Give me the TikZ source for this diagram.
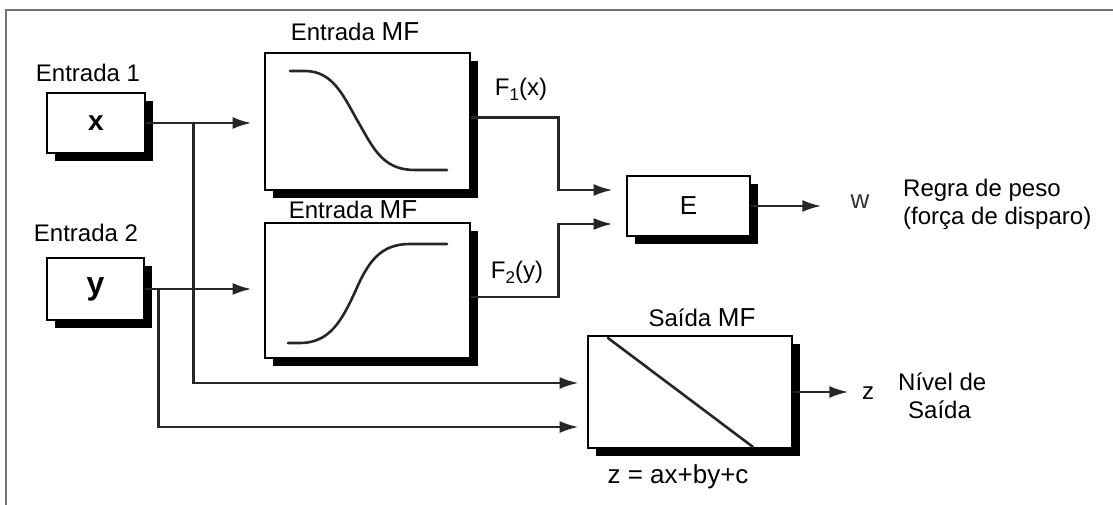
\documentclass[tikz,border=0pt]{standalone}
\usepackage{fontspec}
\setmainfont{Liberation Sans}
\usetikzlibrary{arrows.meta,shadows,calc}
\begin{document}
\begin{tikzpicture}[x=1pt,y=-1pt,
  blk/.style={draw=black, line width=2.8pt, fill=white, rectangle, inner sep=0pt,
    general shadow={fill=black, shadow xshift=8pt, shadow yshift=-8pt}},
  wire/.style={draw=black!85, line width=2.6pt},
  arr/.style={wire, -{Latex[length=19pt,width=12pt]}},
  lbl/.style={font=\fontsize{24}{28}\selectfont, inner sep=0pt},
  curve/.style={draw=black!85, line width=2.6pt, line cap=round},
  frame/.style={draw=black!55, line width=2pt}
  ]
\useasboundingbox (0,0) rectangle (1113,505);
\draw[frame] (1113,10) -- (6,10) -- (6,505);

% blocks
\node[blk, minimum width=98pt, minimum height=60pt] (bx) at (96,123) {\fontsize{28}{28}\selectfont\bfseries x};
\node[blk, minimum width=97pt, minimum height=62pt] (by) at (95.5,289) {\fontsize{32}{32}\selectfont\bfseries y};
\node[blk, minimum width=205pt, minimum height=137pt] (mf1) at (367.5,121.5) {};
\node[blk, minimum width=205pt, minimum height=135pt] (mf2) at (367.5,290.5) {};
\node[blk, minimum width=123pt, minimum height=60pt] (E) at (688.5,206) {\fontsize{26}{26}\selectfont E};
\node[blk, minimum width=204pt, minimum height=112pt] (out) at (690,392) {};

% membership curves
\draw[curve] (290,71) -- (305,71) .. controls (335,71) and (345,100) .. (360,125)
  .. controls (375,152) and (385,170) .. (415,170) -- (447,170);
\draw[curve] (288,343) -- (300,343) .. controls (330,343) and (342,320) .. (355,292)
  .. controls (368,262) and (380,244) .. (410,244) -- (447,244);
\draw[curve] (608,338) -- (753,447);

% labels
\node[lbl] (l1) at (88,73) {Entrada 1};
\node[lbl] (l2) at (86,233) {Entrada 2};
\node[lbl] (lmf1) at (355,32) {Entrada {\fontsize{26}{28}\selectfont MF}};
\node[lbl] (lmf2) at (353,210) {Entrada {\fontsize{26}{28}\selectfont MF}};
\node[lbl] (lf1) at (521,89) {F\raisebox{-5pt}{\fontsize{17}{17}\selectfont 1}(x)};
\node[lbl] (lf2) at (517,272) {F\raisebox{-5pt}{\fontsize{17}{17}\selectfont 2}(y)};
\node[lbl, text=black!80, font=\fontsize{26}{28}\selectfont] (lw) at (860,202) {w};
\node[lbl, align=left, anchor=west] (lr) at (903,204) {Regra de peso\\(força de disparo)};
\node[lbl] (lsmf) at (702,318) {Saída {\fontsize{26}{28}\selectfont MF}};
\node[lbl, font=\fontsize{26}{28}\selectfont] (leq) at (678,477) {z = ax+by+c};
\node[lbl] (lz) at (868,393) {z};
\node[lbl, align=left, anchor=west] (ln) at (898,396) {Nível de\\\hspace*{10pt}Saída};

% connectors
\coordinate (j1) at ($(bx.east)+(47,0)$);
\coordinate (j2) at ($(by.east)+(13,0)$);
\coordinate (in1) at ([yshift=9pt]out.west);
\coordinate (in2) at ([yshift=-35pt]out.west);
\coordinate (e1) at ([yshift=16pt]E.west);
\coordinate (e2) at ([yshift=-18pt]E.west);
\coordinate (wt) at ($(E.east)+(70,0)$);
\coordinate (zt) at ($(out.east)+(55,0)$);

\draw[arr, shorten >=12pt] (bx.east) -- (bx.east -| mf1.west);
\draw[arr, shorten >=12pt] (by.east) -- (by.east -| mf2.west);
\draw[arr, shorten >=8pt] (j1) |- (in1);
\draw[arr, shorten >=8pt] (j2) |- (in2);
\draw[arr, shorten >=13pt] ([yshift=4pt]mf1.east) -- ++(87,0) |- (e1);
\draw[arr, shorten >=13pt] ([yshift=-6.5pt]mf2.east) -- ++(87,0) |- (e2);
\draw[arr] (E.east) -- (wt);
\draw[arr] (out.east) -- (zt);
\end{tikzpicture}
\end{document}
